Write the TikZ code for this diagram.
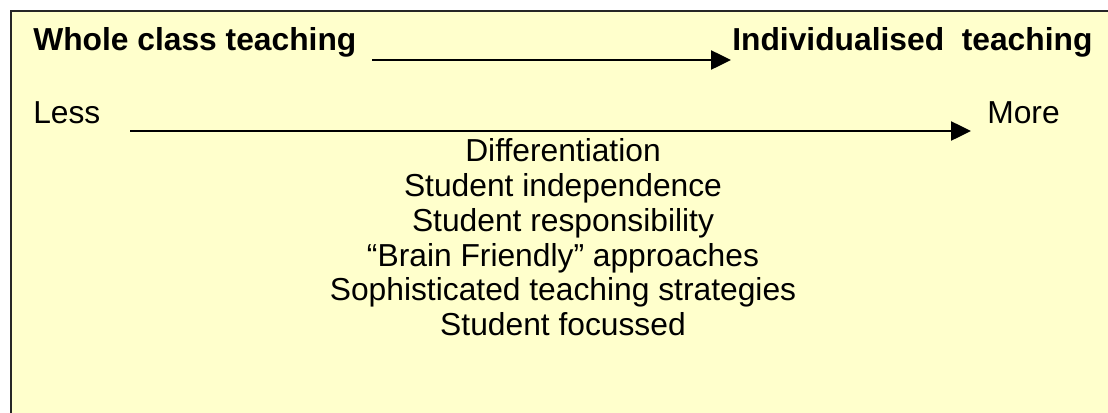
\documentclass[tikz,border=0pt]{standalone}
\usepackage{fontspec}
\setmainfont{Liberation Sans}
\usepackage{tikz}
\usetikzlibrary{arrows.meta}
\definecolor{paleyellow}{HTML}{FFFFCC}
\tikzset{every edge/.style={draw}}

\begin{document}
\begin{tikzpicture}[every node/.style={font=\fontsize{22.6}{26}\selectfont, inner sep=0pt},
                    scalearrow/.style={draw, line width=1.3pt, -{Triangle[length=5mm, width=4.8mm]}}]
  \useasboundingbox (0, 0) rectangle (27.7, -10.3);
  \draw[line width=0.8pt, draw=black!85, fill=paleyellow] (0.275, -0.275) rectangle (28.5, -11);

  \node[anchor=base west] at (0.825, -1.25) (whole) {\textbf{Whole class teaching}};
  \node[anchor=base west] at (18.3, -1.27)  (indiv) {\textbf{Individualised\ \ teaching}};
  \node[anchor=base west] at (0.825, -3.075) (less) {Less};
  \node[anchor=base west] at (24.675, -3.075) (more) {More};

  \coordinate (top start) at (9.3, -1.5);
  \coordinate (top end)   at (18.275, -1.5);
  \coordinate (low start) at (3.25, -3.275);
  \coordinate (low end)   at (24.275, -3.275);

  \draw (top start) edge[scalearrow] (top end);
  \draw (low start) edge[scalearrow] (low end);

  \node[anchor=base] at (14.075, -4.04) (diff)  {Differentiation};
  \node[anchor=base] at (14.075, -4.91) (indep) {Student independence};
  \node[anchor=base] at (14.075, -5.78) (resp)  {Student responsibility};
  \node[anchor=base] at (14.075, -6.65) (brain) {“Brain Friendly” approaches};
  \node[anchor=base] at (14.075, -7.52) (soph)  {Sophisticated teaching strategies};
  \node[anchor=base] at (14.075, -8.39) (focus) {Student focussed};

\end{tikzpicture}
\end{document}
